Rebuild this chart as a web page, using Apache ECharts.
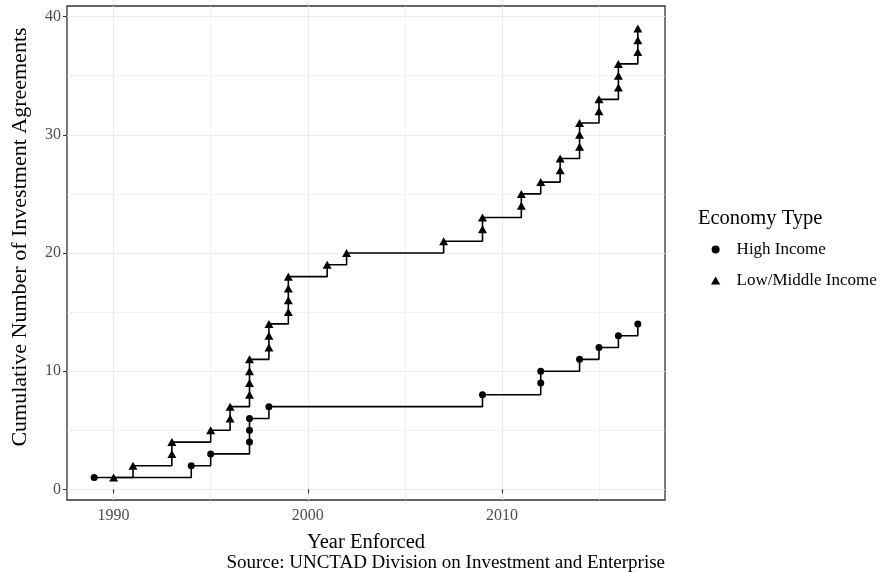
<!DOCTYPE html>
<html>
<head>
<meta charset="utf-8">
<script src="https://cdn.jsdelivr.net/npm/echarts@6/dist/echarts.min.js"></script>
<style>html,body{margin:0;padding:0;background:#fff;}#c{width:880px;height:572px;}</style>
</head>
<body>
<div id="c"></div>
<script>
// ---- data ----
var highYears  = [1989,1994,1995,1997,1997,1997,1998,2009,2012,2012,2014,2015,2016,2017];
var highCounts = [1,2,3,4,5,6,7,8,9,10,11,12,13,14];
var lowYears   = [1990,1991,1993,1993,1995,1996,1996,1997,1997,1997,1997,1998,1998,1998,1999,1999,1999,1999,2001,2002,2007,2009,2009,2011,2011,2012,2013,2013,2014,2014,2014,2015,2015,2016,2016,2016,2017,2017,2017];
var lowCounts  = [1,2,3,4,5,6,7,8,9,10,11,12,13,14,15,16,17,18,19,20,21,22,23,24,25,26,27,28,29,30,31,32,33,34,35,36,37,38,39];
var xMajor = [1990,2000,2010];
var xMinor = [1995,2005,2015];
var yMajor = [0,10,20,30,40];
var yMinor = [5,15,25,35];
var seriesNames = ['High Income','Low/Middle Income'];
var xTitle = 'Year Enforced';
var yTitle = 'Cumulative Number of Investment Agreements';
var legendTitle = 'Economy Type';
var caption = 'Source: UNCTAD Division on Investment and Enterprise';

function pairs(xs, ys){ return xs.map(function(x,i){ return [x, ys[i]]; }); }

var FONT = 'Liberation Serif';
var X_MIN = 1987.6, X_MAX = 2018.4, Y_MIN = -0.9, Y_MAX = 40.9;
var GRID = '#EBEBEB';

var chart = echarts.init(document.getElementById('c'), null, {renderer:'canvas'});
chart.setOption({
  animation: false,
  backgroundColor: '#fff',
  grid: {left: 67, right: 215, top: 6, bottom: 72, show: true, borderColor: '#333333', borderWidth: 1.3, backgroundColor: 'transparent'},
  xAxis: [
    {type:'value', min:X_MIN, max:X_MAX,
     name: xTitle, nameLocation:'middle', nameGap: 32,
     nameTextStyle:{fontFamily:FONT, fontSize:20.5, color:'#000'},
     axisLine:{show:false},
     axisTick:{show:true, customValues:xMajor, length:4, lineStyle:{color:'#333333', width:1.1}},
     axisLabel:{customValues:xMajor, color:'#4D4D4D', fontFamily:FONT, fontSize:16, margin:8,
                formatter:function(v){ return String(v); }},
     splitLine:{show:true, lineStyle:{color:GRID, width:1.1}}},
    {type:'value', min:X_MIN, max:X_MAX, position:'bottom',
     axisLine:{show:false}, axisLabel:{show:false},
     axisTick:{show:false, customValues:xMinor},
     splitLine:{show:true, lineStyle:{color:GRID, width:0.6}}}
  ],
  yAxis: [
    {type:'value', min:Y_MIN, max:Y_MAX,
     axisLine:{show:false},
     axisTick:{show:true, customValues:yMajor, length:4, lineStyle:{color:'#333333', width:1.1}},
     axisLabel:{customValues:yMajor, color:'#4D4D4D', fontFamily:FONT, fontSize:16, margin:6,
                formatter:function(v){ return String(v); }},
     splitLine:{show:true, lineStyle:{color:GRID, width:1.1}}},
    {type:'value', min:Y_MIN, max:Y_MAX, position:'left',
     axisLine:{show:false}, axisLabel:{show:false},
     axisTick:{show:false, customValues:yMinor},
     splitLine:{show:true, lineStyle:{color:GRID, width:0.6}}}
  ],
  legend: {
    orient:'vertical', left: 711, top: 241, padding: 0,
    itemWidth: 32, itemHeight: 8, itemGap: 14, symbolKeepAspect: true,
    textStyle:{fontFamily:FONT, fontSize:17, color:'#000'},
    data: [
      {name: seriesNames[0], icon:'circle'},
      {name: seriesNames[1], icon:'path://M0,-1L1.1547,1L-1.1547,1Z'}
    ]
  },
  graphic: [
    {type:'text', x: 20, y: 237, rotation: Math.PI / 2,
     style:{text: yTitle, font: '22px ' + FONT, fill:'#000', align:'center', verticalAlign:'middle'}},
    {type:'text', left: 698, top: 208, style:{text: legendTitle, font: '20.5px ' + FONT, fill:'#000'}},
    {type:'text', right: 215, top: 554, style:{text: caption, font: '19px ' + FONT, fill:'#000'}}
  ],
  series: [
    {name: seriesNames[0], type:'line', step:'end', xAxisIndex:0, yAxisIndex:0,
     data: pairs(highYears, highCounts),
     symbol:'circle', symbolSize:7, showAllSymbol:true,
     itemStyle:{color:'#000'}, lineStyle:{color:'#000', width:1.6}, z:3},
    {name: seriesNames[1], type:'line', step:'end', xAxisIndex:0, yAxisIndex:0,
     data: pairs(lowYears, lowCounts),
     symbol:'triangle', symbolSize:[9,8], showAllSymbol:true,
     itemStyle:{color:'#000'}, lineStyle:{color:'#000', width:1.6}, z:3}
  ]
});
</script>
</body>
</html>
